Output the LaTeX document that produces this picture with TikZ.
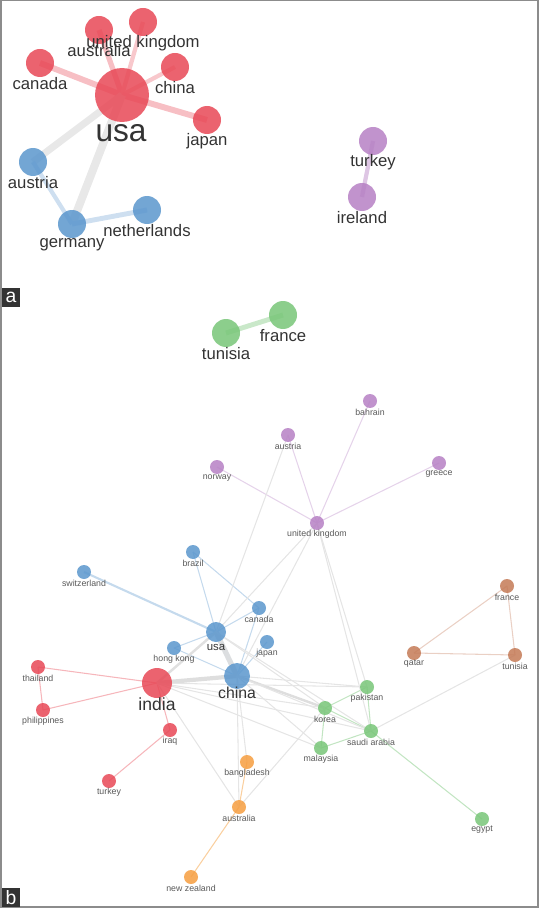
\documentclass[tikz,border=0pt]{standalone}
\usepackage{fontspec}
\setmainfont{Liberation Sans}
\usetikzlibrary{backgrounds}
\definecolor{cred}{RGB}{232,72,86}
\definecolor{cblue}{RGB}{90,150,205}
\definecolor{cpurple}{RGB}{182,128,196}
\definecolor{cgreen}{RGB}{120,198,120}
\definecolor{corange}{RGB}{246,158,64}
\definecolor{cbrown}{RGB}{196,122,86}
\begin{document}
\begin{tikzpicture}[x=0.02cm,y=-0.02cm,line cap=round,
  ball/.style={circle,inner sep=0pt,minimum size=5.6mm,fill opacity=0.85},
  dot/.style={ball,minimum size=2.8mm},
  lbl/.style={inner sep=0pt,text=black!80,font=\fontsize{9.5}{11}\selectfont},
  tiny/.style={inner sep=0pt,text=black!65,font=\fontsize{5}{6}\selectfont},
  tag/.style={fill=black!80,text=white,minimum size=3.8mm,inner sep=0pt,font=\fontsize{11}{11}\selectfont},
  wire/.style={line width=0.6pt}]
 \useasboundingbox (0,0) rectangle (539,908);
 \draw[black!45,line width=1pt] (1,0.5) rectangle (538,907);
 \node[tag] (tag-a) at (11,297.5) {a};
 \node[tag] (tag-b) at (11,897.5) {b};
 % panel a
 \node[ball,fill=cred,minimum size=10.8mm] (a-usa) at (122,95) {};
 \node[lbl,font=\fontsize{18}{20}\selectfont] (a-usa-t) at (121,133) {usa};
 \foreach \nm/\x/\y/\lab in {ca/40/63/canada, au/99/30/australia, uk/143/22/{united kingdom}, cn/175/67/china, jp/207/120/japan}
 {\node[ball,fill=cred] (a-\nm) at (\x,\y) {};
  \node[lbl] (a-\nm-t) at (\x,\y+21) {\lab};}
 \foreach \nm/\x/\y/\lab in {at/33/162/austria, ge/72/224/germany, nl/147/210/netherlands}
 {\node[ball,fill=cblue] (a-\nm) at (\x,\y) {};
  \node[lbl] (a-\nm-t) at (\x,\y+21) {\lab};}
 \foreach \nm/\x/\y/\lab in {tr/373/141/turkey, ie/362/197/ireland}
 {\node[ball,fill=cpurple] (a-\nm) at (\x,\y) {};
  \node[lbl] (a-\nm-t) at (\x,\y+21) {\lab};}
 \foreach \nm/\x/\y/\lab in {tn/226/333/tunisia, fr/283/315/france}
 {\node[ball,fill=cgreen] (a-\nm) at (\x,\y) {};
  \node[lbl] (a-\nm-t) at (\x,\y+21) {\lab};}
 % panel b
 \node[dot,fill=cblue,minimum size=4mm] (b-usa) at (216,632) {};
 \node[tiny,font=\fontsize{6.5}{7}\selectfont,text=black!80] (b-usa-t) at (216,647) {usa};
 \node[dot,fill=cblue,minimum size=5.2mm] (b-cn) at (237,676) {};
 \node[lbl,font=\fontsize{9}{10}\selectfont] (b-cn-t) at (237,693) {china};
 \node[dot,fill=cred,minimum size=6mm] (b-in) at (157,683) {};
 \node[lbl,font=\fontsize{10}{11}\selectfont] (b-in-t) at (157,704) {india};
 \foreach \nm/\x/\y/\lab in {bh/370/401/bahrain, at/288/435/austria, no/217/467/norway, gr/439/463/greece, uk/317/523/{united kingdom}}
 {\node[dot,fill=cpurple] (b-\nm) at (\x,\y) {};
  \node[tiny] (b-\nm-t) at (\x,\y+11) {\lab};}
 \foreach \nm/\x/\y/\lab in {br/193/552/brazil, sw/84/572/switzerland, ca/259/608/canada, jp/267/642/japan, hk/174/648/{hong kong}}
 {\node[dot,fill=cblue] (b-\nm) at (\x,\y) {};
  \node[tiny] (b-\nm-t) at (\x,\y+11) {\lab};}
 \foreach \nm/\x/\y/\lab in {th/38/667/thailand, ph/43/710/philippines, iq/170/730/iraq, tr/109/781/turkey}
 {\node[dot,fill=cred] (b-\nm) at (\x,\y) {};
  \node[tiny] (b-\nm-t) at (\x,\y+11) {\lab};}
 \foreach \nm/\x/\y/\lab in {bd/247/762/bangladesh, au/239/807/australia, nz/191/877/{new zealand}}
 {\node[dot,fill=corange] (b-\nm) at (\x,\y) {};
  \node[tiny] (b-\nm-t) at (\x,\y+11) {\lab};}
 \foreach \nm/\x/\y/\lab in {pk/367/687/pakistan, ko/325/708/korea, sa/371/731/{saudi arabia}, my/321/748/malaysia, eg/482/819/egypt}
 {\node[dot,fill=cgreen] (b-\nm) at (\x,\y) {};
  \node[tiny] (b-\nm-t) at (\x,\y+11) {\lab};}
 \foreach \nm/\x/\y/\lab in {fr/507/586/france, qa/414/653/qatar, tn/515/655/tunisia}
 {\node[dot,fill=cbrown] (b-\nm) at (\x,\y) {};
  \node[tiny] (b-\nm-t) at (\x,\y+11) {\lab};}
 % links
 \begin{scope}[on background layer]
  \draw[cred!35,line width=3.4pt] (a-usa.center) -- (a-ca.center);
  \draw[cred!35,line width=3pt] (a-usa.center) -- (a-au.center);
  \draw[cred!30,line width=2.4pt] (a-usa.center) -- (a-uk.center);
  \draw[cred!30,line width=2.4pt] (a-usa.center) -- (a-cn.center);
  \draw[cred!35,line width=3.4pt] (a-usa.center) -- (a-jp.center);
  \draw[black!9,line width=4pt] (a-usa.center) -- (a-at.center);
  \draw[black!9,line width=4.6pt] (a-usa.center) -- (a-ge.center);
  \draw[cblue!30,line width=2.4pt] (a-at.center) -- (a-ge.center);
  \draw[cblue!30,line width=2.8pt] (a-ge.center) -- (a-nl.center);
  \draw[cpurple!45,line width=2.4pt] (a-tr.center) -- (a-ie.center);
  \draw[cgreen!40,line width=2.8pt] (a-tn.center) -- (a-fr.center);
  \foreach \a in {no,at,bh,gr}
   \draw[wire,cpurple!35] (b-uk.center) -- (b-\a.center);
  \foreach \a/\b in {fr/qa,fr/tn,qa/tn}
   \draw[wire,cbrown!35] (b-\a.center) -- (b-\b.center);
  \draw[cblue!35,line width=1.2pt] (b-sw.center) -- (b-usa.center);
  \draw[cblue!25!black!15,line width=3pt] (b-usa.center) -- (b-cn.center);
  \foreach \a/\b in {br/usa,br/ca,usa/ca,ca/cn,jp/cn,hk/usa,hk/cn}
   \draw[wire,cblue!35] (b-\a.center) -- (b-\b.center);
  \foreach \a/\b in {th/in,ph/in,th/ph,in/iq,iq/tr}
   \draw[wire,cred!40] (b-\a.center) -- (b-\b.center);
  \foreach \a/\b in {bd/au,au/nz}
   \draw[wire,corange!50] (b-\a.center) -- (b-\b.center);
  \foreach \a/\b in {ko/pk,ko/sa,ko/my,my/sa,pk/sa,sa/eg}
   \draw[wire,cgreen!45] (b-\a.center) -- (b-\b.center);
  \draw[black!13,line width=2.4pt] (b-in.center) -- (b-cn.center);
  \draw[black!12,line width=1.4pt] (b-in.center) -- (b-usa.center);
  \draw[black!13,line width=1.4pt] (b-cn.center) -- (b-ko.center);
  \foreach \a/\b in {at/usa,uk/usa,uk/cn,uk/pk,uk/sa,in/ko,in/sa,in/pk,in/my,in/au,cn/sa,cn/pk,cn/my,cn/bd,cn/au,usa/ko,usa/sa,ko/au,sa/tn}
   \draw[wire,black!10] (b-\a.center) -- (b-\b.center);
 \end{scope}
\end{tikzpicture}
\end{document}
